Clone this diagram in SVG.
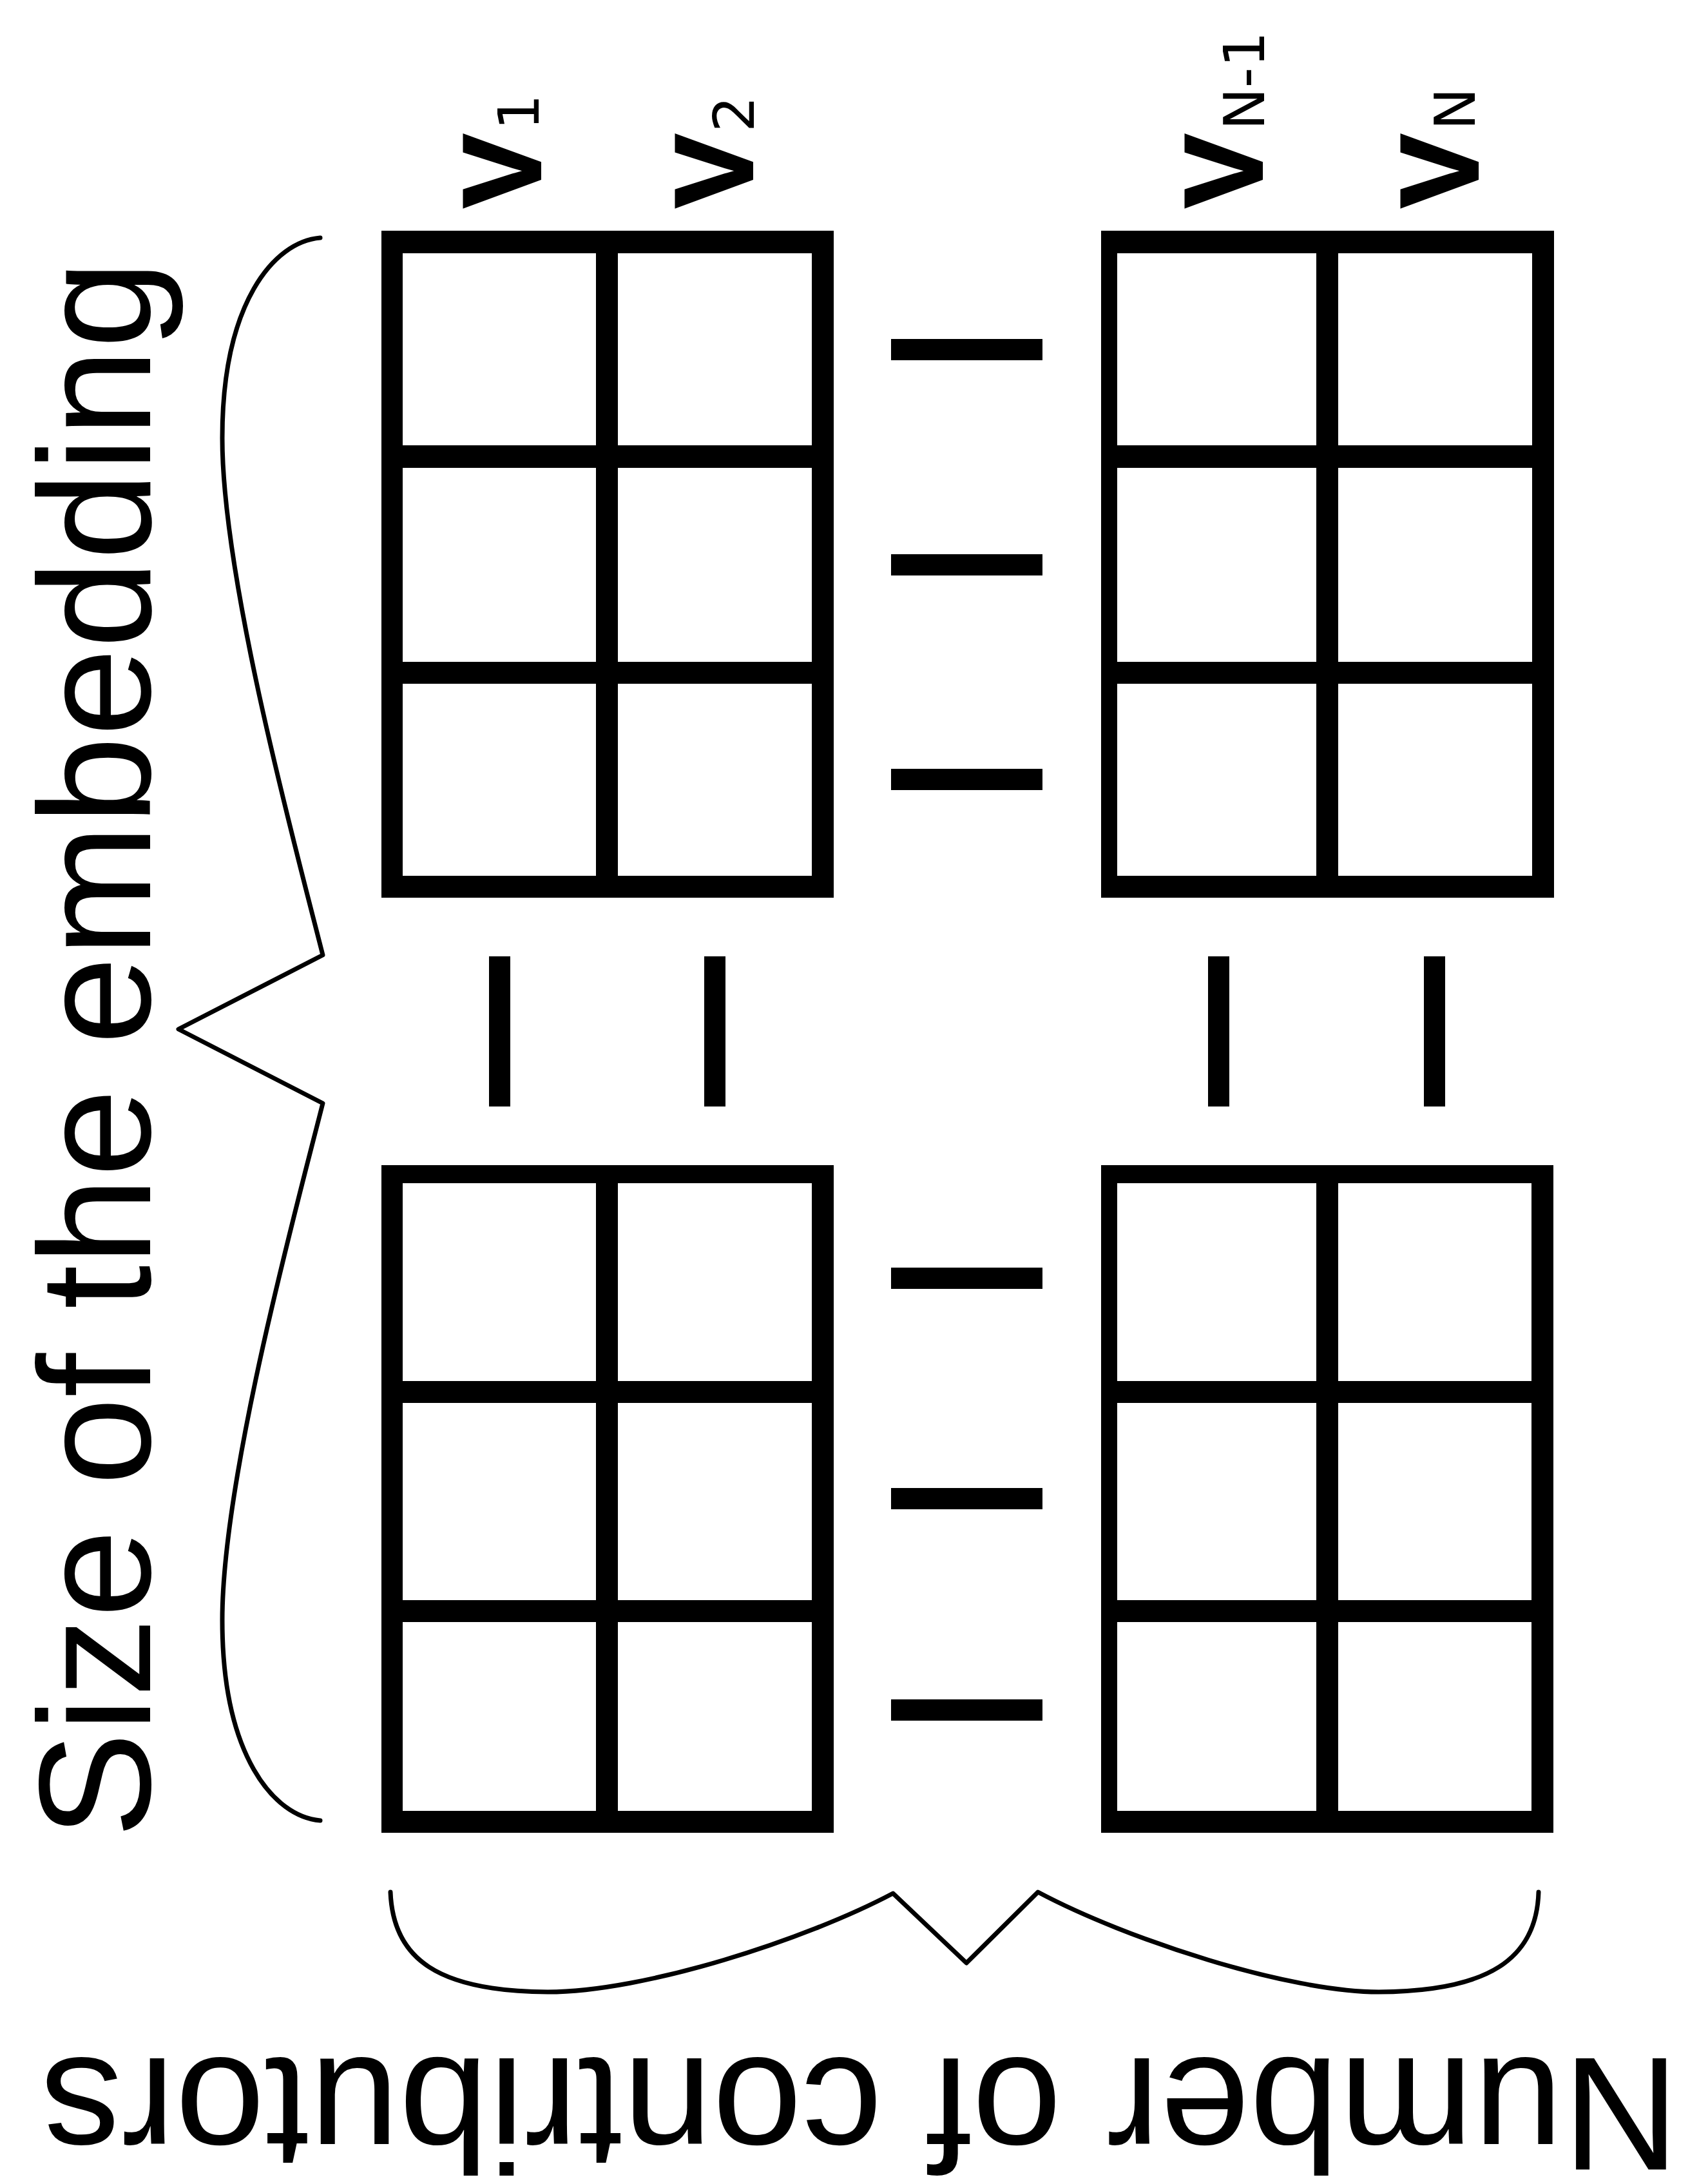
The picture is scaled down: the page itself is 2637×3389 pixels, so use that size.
<svg xmlns="http://www.w3.org/2000/svg" width="2637" height="3389" viewBox="0 0 2637 3389">
  <style>
    .bar { fill: #000; }
    .brace { fill: none; stroke: #000; stroke-width: 7; stroke-linejoin: round; stroke-linecap: round; }
    .v { font-family: "Liberation Sans", Arial, sans-serif; font-weight: bold; font-size: 170px; fill: #000; stroke: #000; stroke-width: 4; }
    .sub { font-family: "DejaVu Sans", sans-serif; font-size: 88px; fill: #000; }
    .axis { font-family: "Liberation Sans", Arial, sans-serif; font-size: 246px; fill: #000; }
  </style>
  <rect width="2637" height="3389" fill="#fff"/>

  <!-- column labels, written bottom-to-top -->
  <g id="labels-vectors">
    <g id="label-v1">
      <text class="v" transform="translate(838,322) rotate(-90)">V</text>
      <text class="sub" transform="translate(836,202) rotate(-90)">1</text>
    </g>
    <g id="label-v2">
      <text class="v" transform="translate(1167,322) rotate(-90)">V</text>
      <text class="sub" transform="translate(1170,205) rotate(-90)">2</text>
    </g>
    <g id="label-vn-1">
      <text class="v" transform="translate(1958,322) rotate(-90)">V</text>
      <text class="sub" transform="translate(1962,202) rotate(-90)">N-1</text>
    </g>
    <g id="label-vn">
      <text class="v" transform="translate(2293,322) rotate(-90)">V</text>
      <text class="sub" transform="translate(2289,202) rotate(-90)">N</text>
    </g>
  </g>

  <!-- upper-left block: 2 columns x 3 rows -->
  <g id="block-top-left">
    <rect class="bar" x="592" y="358" width="33" height="1035"/>
    <rect class="bar" x="925" y="358" width="34" height="1035"/>
    <rect class="bar" x="1260" y="358" width="34" height="1035"/>
    <rect class="bar" x="592" y="358" width="702" height="35"/>
    <rect class="bar" x="592" y="691" width="702" height="35"/>
    <rect class="bar" x="592" y="1027" width="702" height="34"/>
    <rect class="bar" x="592" y="1359" width="702" height="34"/>
  </g>

  <!-- upper-right block -->
  <g id="block-top-right">
    <rect class="bar" x="1709" y="358" width="25" height="1035"/>
    <rect class="bar" x="2043" y="358" width="34" height="1035"/>
    <rect class="bar" x="2378" y="358" width="34" height="1035"/>
    <rect class="bar" x="1709" y="358" width="703" height="35"/>
    <rect class="bar" x="1709" y="691" width="703" height="35"/>
    <rect class="bar" x="1709" y="1027" width="703" height="34"/>
    <rect class="bar" x="1709" y="1359" width="703" height="34"/>
  </g>

  <!-- lower-left block -->
  <g id="block-bottom-left">
    <rect class="bar" x="592" y="1808" width="33" height="1036"/>
    <rect class="bar" x="925" y="1808" width="34" height="1036"/>
    <rect class="bar" x="1260" y="1808" width="34" height="1036"/>
    <rect class="bar" x="592" y="1808" width="702" height="28"/>
    <rect class="bar" x="592" y="2143" width="702" height="34"/>
    <rect class="bar" x="592" y="2483" width="702" height="34"/>
    <rect class="bar" x="592" y="2810" width="702" height="34"/>
  </g>

  <!-- lower-right block -->
  <g id="block-bottom-right">
    <rect class="bar" x="1709" y="1808" width="25" height="1036"/>
    <rect class="bar" x="2043" y="1808" width="34" height="1036"/>
    <rect class="bar" x="2377" y="1808" width="34" height="1036"/>
    <rect class="bar" x="1709" y="1808" width="702" height="28"/>
    <rect class="bar" x="1709" y="2143" width="702" height="34"/>
    <rect class="bar" x="1709" y="2483" width="702" height="34"/>
    <rect class="bar" x="1709" y="2810" width="702" height="34"/>
  </g>

  <!-- ellipsis strokes between the blocks -->
  <g id="connectors">
    <rect class="bar" x="1383" y="526" width="235" height="33"/>
    <rect class="bar" x="1383" y="860" width="235" height="33"/>
    <rect class="bar" x="1383" y="1193" width="235" height="33"/>
    <rect class="bar" x="1383" y="1967" width="235" height="33"/>
    <rect class="bar" x="1383" y="2309" width="235" height="33"/>
    <rect class="bar" x="1383" y="2637" width="235" height="33"/>
    <rect class="bar" x="759" y="1484" width="33" height="233"/>
    <rect class="bar" x="1093" y="1484" width="33" height="233"/>
    <rect class="bar" x="1875" y="1484" width="33" height="233"/>
    <rect class="bar" x="2210" y="1484" width="33" height="233"/>
  </g>

  <!-- brace spanning the embedding dimension -->
  <g id="brace-embedding">
    <path class="brace" d="M497,369 C425,375 345,470 345,680 C345,900 460,1320 501,1482 L277,1597 L501,1712 C460,1874 345,2294 345,2514 C345,2724 425,2819 497,2825"/>
    <text class="axis" text-anchor="middle" transform="translate(233,1628) rotate(-90)">Size of the embedding</text>
  </g>

  <!-- brace spanning the contributors -->
  <g id="brace-contributors">
    <path class="brace" d="M606,2936 C610,3040 680,3090 850,3091 C1000,3091 1250,3010 1386,2938 L1500,3046 L1611,2936 C1750,3010 2000,3091 2140,3091 C2310,3090 2385,3040 2388,2936"/>
    <text class="axis" style="font-size:250px" text-anchor="middle" transform="translate(1335,3194) rotate(180)">Number of contributors</text>
  </g>
</svg>
